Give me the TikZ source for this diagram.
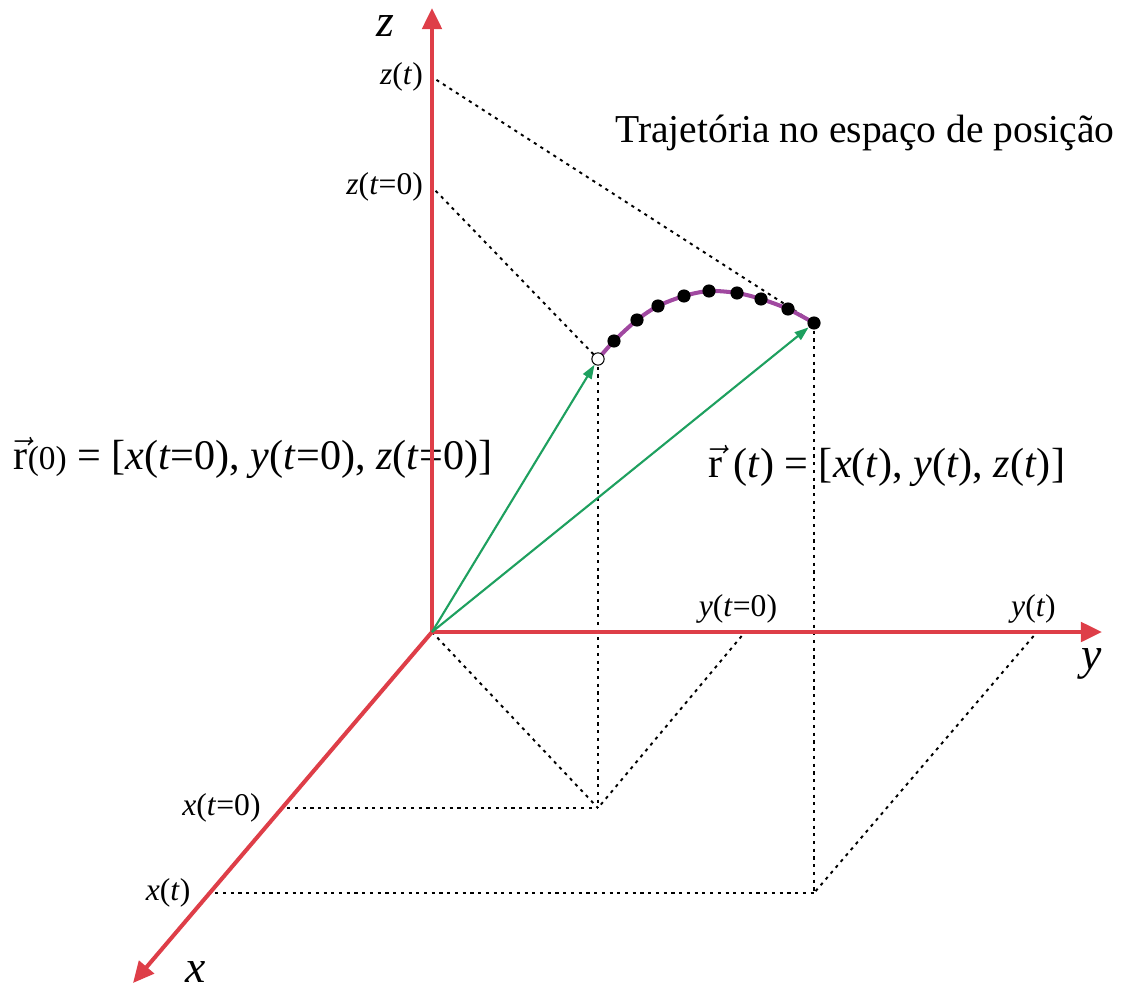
\documentclass[tikz,border=0pt]{standalone}
\usepackage{amsmath}
\usepackage{fontspec}
\setmainfont{Liberation Serif}
\usetikzlibrary{arrows.meta, positioning}
\definecolor{axisred}{RGB}{222,62,72}
\definecolor{vecgreen}{RGB}{30,160,95}
\definecolor{trajpurple}{RGB}{160,72,160}

\begin{document}
\begin{tikzpicture}[x = 0.02cm, y = -0.02cm,
  axis/.style = {draw=axisred, line width=2.3pt, -{Triangle[length=12pt, width=11pt]}},
  posvec/.style = {draw=vecgreen, line width=1.2pt, -{Triangle[length=8pt, width=5.5pt]}},
  proj/.style = {draw, line width=1.1pt, dash pattern=on 1.8pt off 2.6pt},
  fromaxis/.style = {proj, shorten <=3pt},
  traj/.style = {draw=trajpurple, line width=2.3pt},
  dotnode/.style = {circle, fill, inner sep=0pt, minimum size=7.5pt},
  startnode/.style = {circle, draw, fill=white, inner sep=0pt, minimum size=7pt, line width=0.6pt},
  small/.style = {font=\fontsize{18}{20}\selectfont, inner sep=0pt},
  axislab/.style = {font=\fontsize{26}{28}\selectfont\itshape, inner sep=0pt},
  big/.style = {font=\fontsize{24}{28}\selectfont, inner sep=0pt}
]
\useasboundingbox (0,0) rectangle (1124,993);

\coordinate (O) at (432,632);
\coordinate (zend) at (432,8);
\coordinate (yend) at (1102,632);
\coordinate (xend) at (133,983);
\coordinate (zt) at (432,77);
\coordinate (z0) at (432,187);
\coordinate (y0) at (745,632);
\coordinate (yt) at (1037,632);
\coordinate (x0) at (282,808);
\coordinate (xt) at (210,893);
\coordinate (q0) at (598,808);
\coordinate (q1) at (814,893);

\coordinate (c0) at (598,359);
\foreach \n/\px/\py in {1/614/341, 2/637/320, 3/658/306, 4/684/296,
  5/709/291, 6/737/293, 7/761/299, 8/788/309, 9/814/323}
  \coordinate (c\n) at (\px,\py);

\node[big] (eqzero) at (253,458)
  {$\vec{\text{r}}$\fontsize{19}{20}\selectfont(0)\fontsize{24}{28}\selectfont{} = [\textit{x}(\textit{t}=0), \textit{y}(\textit{t}=0), \textit{z}(\textit{t}=0)]};
\node[big] (eqt) at (887,466)
  {$\vec{\text{r}}$ (\textit{t}) = [\textit{x}(\textit{t}), \textit{y}(\textit{t}), \textit{z}(\textit{t})]};
\node[big, font=\fontsize{22.5}{26}\selectfont] (title) at (865,133) {Trajetória no espaço de posição};

\node[small, left=5pt of zt] (ztlab) {\textit{z}(\textit{t})};
\node[small, left=5pt of z0] (z0lab) {\textit{z}(\textit{t}=0)};
\node[small, above=5pt of y0, xshift=-4pt] (y0lab) {\textit{y}(\textit{t}=0)};
\node[small, above=5pt of yt, xshift=-2pt] (ytlab) {\textit{y}(\textit{t})};
\node[small, left=12pt of x0] (x0lab) {\textit{x}(\textit{t}=0)};
\node[small, left=11pt of xt] (xtlab) {\textit{x}(\textit{t})};

\draw[fromaxis] (zt) -- (c9);
\draw[fromaxis] (z0) -- (c0);
\draw[proj] (c0) -- (q0);
\draw[proj] (c9) -- (q1);
\draw[proj] (O) -- (q0);
\draw[fromaxis] (y0) -- (q0);
\draw[fromaxis] (x0) -- (q0);
\draw[fromaxis] (yt) -- (q1);
\draw[fromaxis] (xt) -- (q1);

\draw[axis] (O) -- (zend);
\draw[axis] (O) -- (yend);
\draw[axis] (O) -- (xend);
\node[axislab] (zlab) at (385,26) {z};
\node[axislab] (ylab) at (1092,664) {y};
\node[axislab] (xlab) at (196,972) {x};

\draw[traj] plot[smooth] coordinates {(c0) (c1) (c2) (c3) (c4) (c5) (c6) (c7) (c8) (c9)};
\foreach \n in {1,...,9}
  \node[dotnode] (p\n) at (c\n) {};
\node[startnode] (p0) at (c0) {};

\draw[posvec] (O) -- (p0);
\draw[posvec] (O) -- (p9);
\end{tikzpicture}
\end{document}
